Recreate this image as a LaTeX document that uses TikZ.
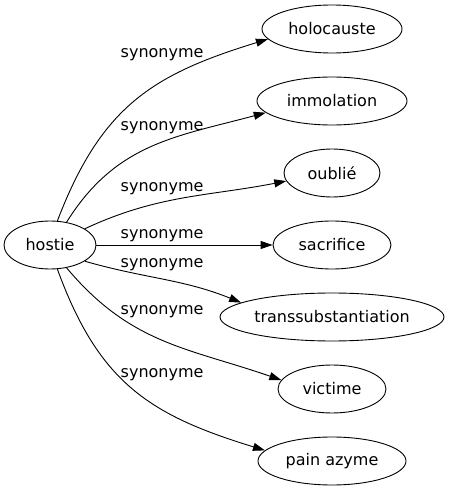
\documentclass[tikz,border=0pt]{standalone}
\usepackage{fontspec}
\setmainfont{DejaVu Sans}
\usetikzlibrary{arrows.meta,shapes.geometric}
\begin{document}
\begin{tikzpicture}[x=1pt,y=1pt,
  word/.style={draw, ellipse, minimum height=48pt, inner sep=0pt, line width=0.9pt, font=\fontsize{16}{19}\selectfont},
  rel/.style={font=\fontsize{16}{19}\selectfont, anchor=base west, inner sep=0pt},
  link/.style={-{Triangle[length=12pt,width=8pt]}, line width=0.9pt}]
\useasboundingbox (0,0) rectangle (449,491);
\node[word, minimum width=92pt] (h) at (50,246) {hostie};
\node[word, minimum width=140pt] (t1) at (332,462) {holocauste};
\node[word, minimum width=150pt] (t2) at (332,390) {immolation};
\node[word, minimum width=96pt] (t3) at (332,318) {oublié};
\node[word, minimum width=118pt] (t4) at (332,246) {sacrifice};
\node[word, minimum width=224pt] (t5) at (332,174) {transsubstantiation};
\node[word, minimum width=108pt] (t6) at (332,102) {victime};
\node[word, minimum width=148pt] (t7) at (332,30) {pain azyme};
\draw[link] (h.73) to[out=69,in=197,looseness=1.12] (t1.189);
\draw[link] (h.54) to[out=58,in=195,looseness=1.05] (t2.190);
\draw[link] (h.25) to[out=25,in=191] (t3.190);
\draw[link] (h.east) -- (t4.west);
\draw[link] (h.335) to[out=-16,in=158] (t5.171);
\draw[link] (h.306) to[out=-50,in=161,looseness=1.05] (t6.170);
\draw[link] (h.287) to[out=-70,in=163,looseness=1.12] (t7.171);
\node[rel] (l1) at (120.5,433) {synonyme};
\node[rel] (l2) at (120.5,360) {synonyme};
\node[rel] (l3) at (120.5,299) {synonyme};
\node[rel] (l4) at (120.5,252) {synonyme};
\node[rel] (l5) at (120.5,223) {synonyme};
\node[rel] (l6) at (120.5,176) {synonyme};
\node[rel] (l7) at (120.5,113) {synonyme};
\end{tikzpicture}
\end{document}
